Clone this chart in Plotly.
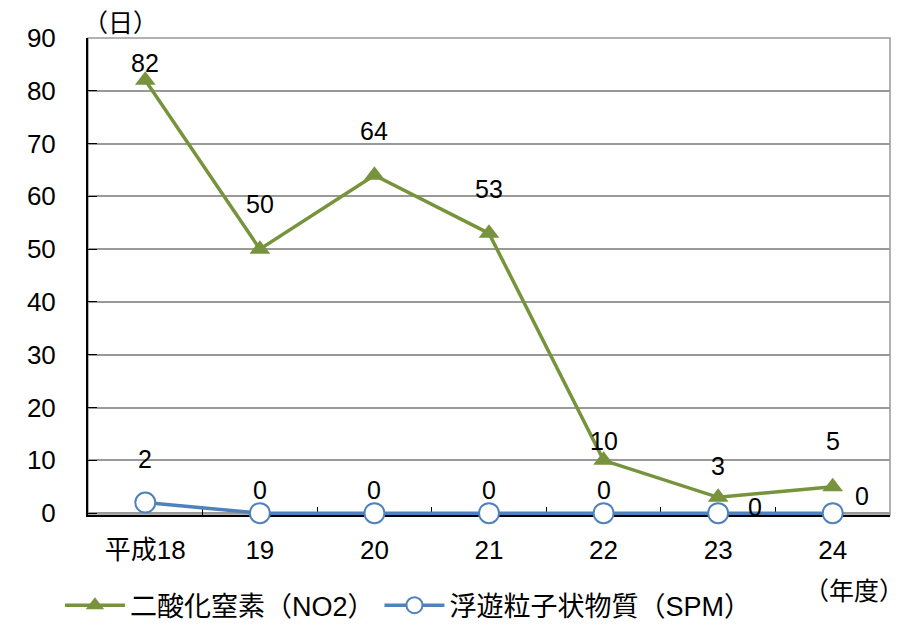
import plotly.graph_objects as go

categories = ["平成18", "19", "20", "21", "22", "23", "24"]
no2_values = [82, 50, 64, 53, 10, 3, 5]
spm_values = [2, 0, 0, 0, 0, 0, 0]
y_ticks = [0, 10, 20, 30, 40, 50, 60, 70, 80, 90]

no2_name = "二酸化窒素（NO2）"
spm_name = "浮遊粒子状物質（SPM）"

FONT = "Liberation Sans, Noto Sans CJK JP"
FS = 25
GREEN = "#77933C"
BLUE = "#4F81BD"

fig = go.Figure()
fig.add_trace(go.Scatter(
    x=categories, y=no2_values, name=no2_name, mode="lines+markers",
    line=dict(color=GREEN, width=3.5),
    marker=dict(symbol="triangle-up", size=18, color=GREEN),
))
fig.add_trace(go.Scatter(
    x=categories, y=spm_values, name=spm_name, mode="lines+markers",
    line=dict(color=BLUE, width=3.5),
    marker=dict(symbol="circle", size=20, color="white", line=dict(color=BLUE, width=2)),
    cliponaxis=False,
))

# data labels (offsets mimic the original label placement)
no2_shift = [17, 45, 44, 44, 19, 31, 46]
for i, (v, s) in enumerate(zip(no2_values, no2_shift)):
    fig.add_annotation(x=i, y=v, text=str(v), showarrow=False, yshift=s,
                       font=dict(family=FONT, size=FS, color="black"))
spm_shift = [(0, 44), (0, 23), (0, 23), (0, 23), (0, 23), (37, 6), (29, 17)]
for i, (v, (xs, ys)) in enumerate(zip(spm_values, spm_shift)):
    fig.add_annotation(x=i, y=v, text=str(v), showarrow=False, xshift=xs, yshift=ys,
                       font=dict(family=FONT, size=FS, color="black"))

fig.add_annotation(xref="paper", yref="paper", x=0.04, y=1.0, yshift=31,
                   text="（日）", showarrow=False, xanchor="center",
                   font=dict(family=FONT, size=FS, color="black"))
fig.add_annotation(xref="paper", yref="paper", x=1.0, y=0, yshift=-92, xshift=-36,
                   text="（年度）", showarrow=False, xanchor="center",
                   font=dict(family=FONT, size=FS, color="black"))

# plot border (top/right gray)
fig.add_shape(type="rect", xref="paper", yref="paper", x0=0, y0=0, x1=1, y1=1,
              line=dict(color="#999999", width=1.5), layer="below")

# the page body adds an 8px offset, so the figure is sized/margined to compensate
fig.update_layout(
    width=912, height=619,
    margin=dict(l=80, r=30, t=30, b=112, autoexpand=False),
    paper_bgcolor="white", plot_bgcolor="white",
    font=dict(family=FONT, size=FS, color="black"),
    showlegend=True,
    legend=dict(orientation="h", x=-0.035, xanchor="left", y=-0.19, yanchor="middle",
                font=dict(family=FONT, size=27), itemwidth=60,
                traceorder="normal"),
    xaxis=dict(
        type="category", showgrid=False, showline=True, linecolor="black", linewidth=2,
        ticks="inside", ticklen=8, tickcolor="black", tickson="boundaries",
        tickfont=dict(family=FONT, size=26), range=[-0.5, 6.5], automargin=False,
        ticklabelstandoff=11, layer="below traces",
    ),
    yaxis=dict(
        range=[-0.35, 90], tickvals=y_ticks, showgrid=True, gridcolor="#999999", gridwidth=1.5,
        showline=True, linecolor="black", linewidth=2, ticks="inside", ticklen=9,
        tickcolor="black", tickfont=dict(family=FONT, size=26), zeroline=False,
        ticklabelstandoff=25, automargin=False, layer="below traces",
    ),
)

fig.write_html("out.html")
